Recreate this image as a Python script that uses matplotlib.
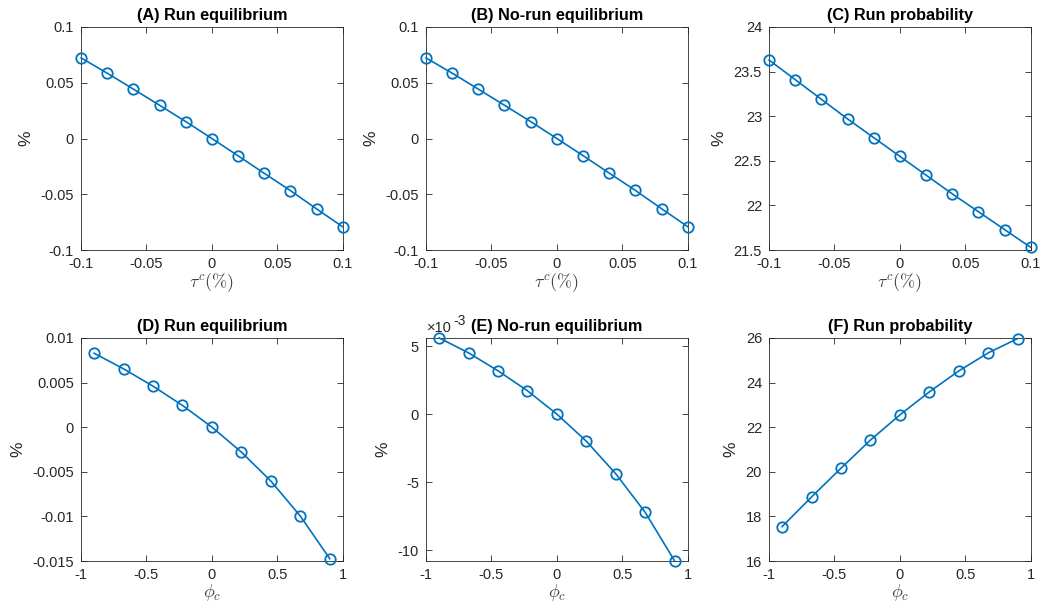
import matplotlib
matplotlib.use("Agg")
import matplotlib.pyplot as plt
from matplotlib.ticker import FuncFormatter

plt.rcParams['font.family'] = ['Liberation Sans', 'DejaVu Sans']
plt.rcParams['mathtext.fontset'] = 'cm'
plt.rcParams['axes.unicode_minus'] = False

# top row: tau^c in %
tau = [-0.1, -0.08, -0.06, -0.04, -0.02, 0.0, 0.02, 0.04, 0.06, 0.08, 0.1]
run_eq_tau = [0.0723, 0.0586, 0.0443, 0.0298, 0.0152, 0.0, -0.0155, -0.0312, -0.0467, -0.0631, -0.0792]
norun_eq_tau = [0.0723, 0.0586, 0.0443, 0.0298, 0.0152, 0.0, -0.0153, -0.0310, -0.0465, -0.0629, -0.0790]
run_prob_tau = [23.63, 23.41, 23.19, 22.97, 22.76, 22.55, 22.34, 22.13, 21.93, 21.73, 21.53]

# bottom row: phi_c
phi = [-0.9, -0.675, -0.45, -0.225, 0.0, 0.225, 0.45, 0.675, 0.9]
run_eq_phi = [0.00828, 0.00653, 0.00459, 0.00243, 0.0, -0.0028, -0.00604, -0.00996, -0.01474]
norun_eq_phi = [0.00561, 0.00451, 0.00319, 0.00172, 0.0, -0.00199, -0.00439, -0.00723, -0.01081]
run_prob_phi = [17.54, 18.87, 20.16, 21.42, 22.55, 23.58, 24.52, 25.33, 25.97]

blue = '#0072BD'
dark = '#262626'

fig = plt.figure(figsize=(10.43, 6.13), dpi=100)

lefts = [0.0777, 0.4084, 0.7373]
w = 0.2510
bottoms = [0.592, 0.0848]
h = 0.364

panels = [
    (tau, run_eq_tau, '(A) Run equilibrium', (-0.1, 0.1), (-0.1, 0.1),
     [-0.1, -0.05, 0, 0.05, 0.1], [-0.1, -0.05, 0, 0.05, 0.1], r'$\tau^c(\%)$'),
    (tau, norun_eq_tau, '(B) No-run equilibrium', (-0.1, 0.1), (-0.1, 0.1),
     [-0.1, -0.05, 0, 0.05, 0.1], [-0.1, -0.05, 0, 0.05, 0.1], r'$\tau^c(\%)$'),
    (tau, run_prob_tau, '(C) Run probability', (-0.1, 0.1), (21.5, 24),
     [-0.1, -0.05, 0, 0.05, 0.1], [21.5, 22, 22.5, 23, 23.5, 24], r'$\tau^c(\%)$'),
    (phi, run_eq_phi, '(D) Run equilibrium', (-1, 1), (-0.015, 0.01),
     [-1, -0.5, 0, 0.5, 1], [-0.015, -0.01, -0.005, 0, 0.005, 0.01], r'$\phi_c$'),
    (phi, norun_eq_phi, '(E) No-run equilibrium', (-1, 1), (min(norun_eq_phi), max(norun_eq_phi)),
     [-1, -0.5, 0, 0.5, 1], [-0.01, -0.005, 0, 0.005], r'$\phi_c$'),
    (phi, run_prob_phi, '(F) Run probability', (-1, 1), (16, 26),
     [-1, -0.5, 0, 0.5, 1], [16, 18, 20, 22, 24, 26], r'$\phi_c$'),
]

gfmt = FuncFormatter(lambda v, p: '%g' % round(v, 6))

for i, (x, y, title, xl, yl, xt, yt, xlab) in enumerate(panels):
    ax = fig.add_axes([lefts[i % 3], bottoms[i // 3], w, h])
    ax.plot(x, y, color=blue, lw=1.2, marker='o', ms=7.5, mfc='none', mew=1.3, clip_on=False, zorder=3)
    ax.set_xlim(*xl)
    ax.set_ylim(*yl)
    ax.set_xticks(xt)
    ax.set_yticks(yt)
    ax.xaxis.set_major_formatter(gfmt)
    if i == 4:
        ax.yaxis.set_major_formatter(FuncFormatter(lambda v, p: '%g' % round(v * 1000, 6)))
        ax.text(0.003, 1.012, '×10', transform=ax.transAxes,
                fontsize=10.5, color=dark, ha='left', va='bottom')
        ax.text(0.105, 1.045, '-3', transform=ax.transAxes,
                fontsize=10, color=dark, ha='left', va='bottom')
    else:
        ax.yaxis.set_major_formatter(gfmt)
    ax.tick_params(direction='in', top=True, right=True, labelsize=10.5, colors=dark,
                   length=4, width=0.6, pad=5)
    for s in ax.spines.values():
        s.set_color(dark)
        s.set_linewidth(0.6)
    ax.set_title(title, fontsize=11.7, fontweight='bold', color='black', pad=5)
    ax.set_xlabel(xlab, fontsize=13, color='#404040', labelpad=0)
    ax.set_ylabel('%', fontsize=12.5, color=dark, labelpad=5)

fig.savefig('out.png', dpi=100)
